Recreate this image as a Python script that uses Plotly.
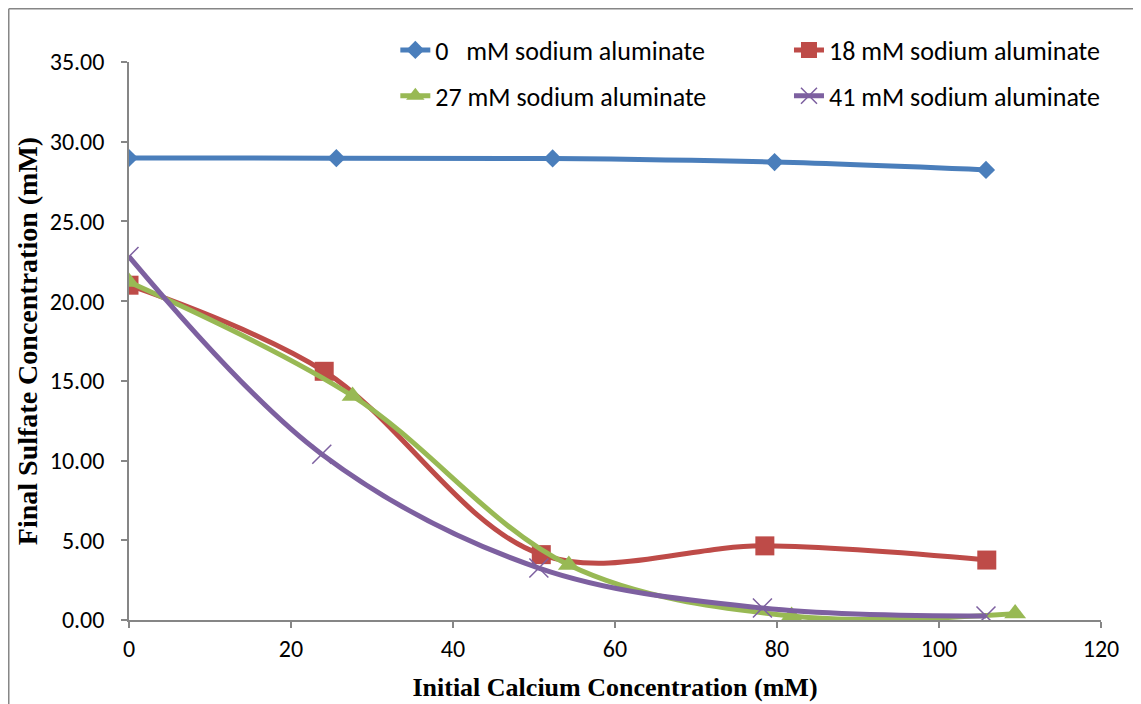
import plotly.graph_objects as go

# initial calcium (mM) and final sulfate (mM) for each sodium aluminate dose
ca_0 = [0, 25.6, 52.3, 79.7, 105.8]
so4_0 = [28.98, 28.97, 28.95, 28.72, 28.23]

ca_18 = [0, 24.1, 50.9, 78.5, 105.9]
so4_18 = [21.0, 15.6, 4.1, 4.65, 3.76]

ca_27 = [0, 27.6, 54.3, 81.8, 109.4]
so4_27 = [21.2, 14.05, 3.45, 0.25, 0.4]

ca_41 = [0, 23.8, 50.6, 78.2, 105.8]
so4_41 = [22.8, 10.4, 3.26, 0.75, 0.25]

names = ["0\u00a0\u00a0\u00a0mM sodium aluminate", "18 mM sodium aluminate",
         "27 mM sodium aluminate", "41 mM sodium aluminate"]

font_sans = "Calibri, Carlito, Lato, sans-serif"
font_serif = "Times New Roman, Liberation Serif, serif"
grey = "#868686"

fig = go.Figure()

# blue diamonds
fig.add_trace(go.Scatter(x=ca_0, y=so4_0, name=names[0], mode="lines+markers",
                         line=dict(color="#4a7ebb", width=5, shape="spline", smoothing=1),
                         marker=dict(symbol="diamond", size=14, color="#4a7ebb"),
                         legend="legend", legendgroup="a"))
# red squares
fig.add_trace(go.Scatter(x=ca_18, y=so4_18, name=names[1], mode="lines+markers",
                         line=dict(color="#be4b48", width=5, shape="spline", smoothing=1),
                         marker=dict(symbol="square", size=19, color="#be4b48"),
                         legend="legend2", legendgroup="b"))
# green triangles
fig.add_trace(go.Scatter(x=ca_27, y=so4_27, name=names[2], mode="lines+markers",
                         line=dict(color="#98b954", width=5, shape="spline", smoothing=1),
                         marker=dict(symbol="triangle-up", size=19, color="#98b954"),
                         legend="legend", legendgroup="c"))
# purple crosses
fig.add_trace(go.Scatter(x=ca_41, y=so4_41, name=names[3], mode="lines+markers",
                         line=dict(color="#7d60a0", width=5, shape="spline", smoothing=1),
                         marker=dict(symbol="x-thin", size=19, color="#7d60a0",
                                     line=dict(color="#7d60a0", width=1.5)),
                         legend="legend2", legendgroup="d"))

legend_style = dict(font=dict(family=font_sans, size=26, color="black"),
                    bgcolor="rgba(0,0,0,0)", tracegroupgap=9,
                    yanchor="top", y=1.0635, xanchor="left")

fig.update_layout(
    width=1141, height=704,
    margin=dict(l=121, r=48, t=54, b=92),
    plot_bgcolor="white", paper_bgcolor="white",
    legend=dict(x=0.274, **legend_style),
    legend2=dict(x=0.679, **legend_style),
    xaxis=dict(range=[0, 120], tick0=0, dtick=20, showgrid=False, zeroline=False,
               showline=True, linecolor=grey, linewidth=1.5,
               ticks="outside", tickcolor=grey, ticklen=6, tickwidth=1.5,
               tickfont=dict(family=font_sans, size=24, color="black"),
               title=dict(text="<b>Initial Calcium Concentration (mM)</b>",
                          font=dict(family=font_serif, size=26, color="black"), standoff=16)),
    yaxis=dict(range=[0, 35], tick0=0, dtick=5, tickformat=".2f", showgrid=False,
               zeroline=False, showline=True, linecolor=grey, linewidth=1.5,
               ticks="outside", tickcolor=grey, ticklen=6, tickwidth=1.5,
               ticklabelstandoff=12,
               tickfont=dict(family=font_sans, size=24, color="black"),
               title=dict(text="<b>Final Sulfate Concentration (mM)</b>",
                          font=dict(family=font_serif, size=28, color="black"), standoff=4)),
)

# outer chart frame (left and top edges only; the rest falls outside the picture)
fig.add_shape(type="line", xref="paper", yref="paper",
              x0=-0.1237, x1=-0.1237, y0=-0.3, y1=1.0954,
              line=dict(color=grey, width=1.5), layer="below")
fig.add_shape(type="line", xref="paper", yref="paper",
              x0=-0.1237, x1=1.2, y0=1.0954, y1=1.0954,
              line=dict(color=grey, width=1.5), layer="below")

fig.write_html("out.html")
